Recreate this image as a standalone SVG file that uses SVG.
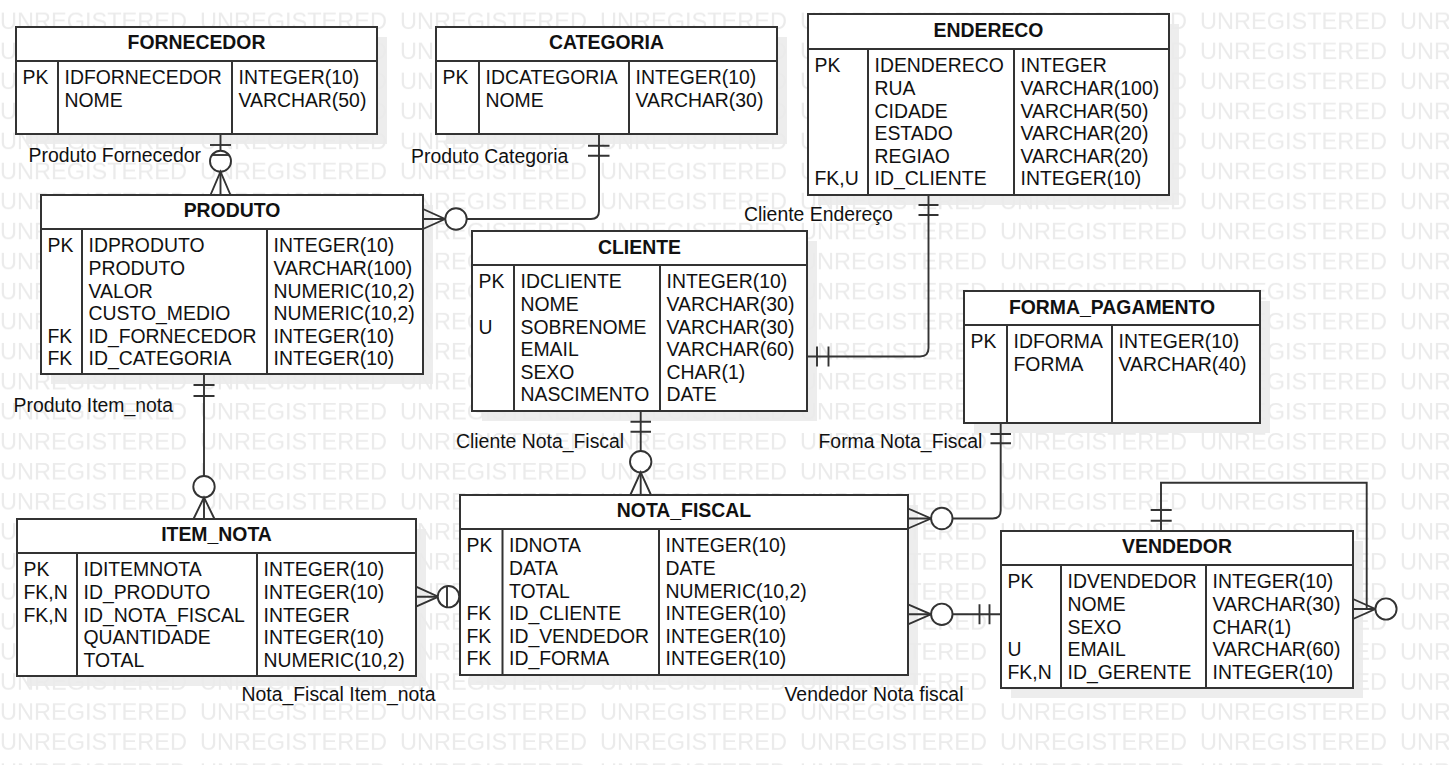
<svg xmlns="http://www.w3.org/2000/svg" width="1449" height="765" viewBox="0 0 1449 765">
<style>
.bg{fill:#fff}
.sh{fill:#000;opacity:.07}
.box{fill:#fff;stroke:#333;stroke-width:2}
.dv{stroke:#333;stroke-width:2;fill:none}
.ln path{fill:none;stroke:#333;stroke-width:1.9}
.ln circle{fill:#fff;stroke:#333;stroke-width:1.9}
text{font-family:"Liberation Sans",Arial,sans-serif;font-size:19.4px;fill:#111}
.ttl{font-weight:bold;text-anchor:middle}
.wm{font-size:23px;fill:#ebebeb}
</style>
<defs>
<pattern id="wm" patternUnits="userSpaceOnUse" x="0" y="0" width="200" height="30.03">
<text class="wm" x="0" y="29.3" textLength="187" lengthAdjust="spacingAndGlyphs">UNREGISTERED</text>
</pattern>
</defs>
<rect class="bg" x="0" y="0" width="1449" height="765"/>
<g id="shadows">
<rect class="sh" x="26" y="37" width="361" height="107"/>
<rect class="sh" x="446" y="37" width="341" height="107"/>
<rect class="sh" x="818" y="24" width="361" height="181"/>
<rect class="sh" x="51" y="205" width="382" height="179"/>
<rect class="sh" x="482" y="241" width="335" height="180"/>
<rect class="sh" x="974" y="301" width="296" height="132"/>
<rect class="sh" x="27" y="529" width="399" height="157"/>
<rect class="sh" x="470" y="505" width="448" height="180"/>
<rect class="sh" x="1011" y="541" width="352" height="157"/>
</g>
<rect x="0" y="0" width="1449" height="765" fill="url(#wm)"/>

<g id="connectors" class="ln">
<!-- Produto Fornecedor -->
<path d="M220.5,134 V195"/>
<path d="M210,145 H231"/>
<circle cx="220.5" cy="161.2" r="10.5"/>
<path d="M212,155 H229"/>
<path d="M210.5,195 L220.5,171.7 L230.5,195"/>
<!-- Produto Categoria -->
<path d="M599,134 V211 Q599,219 591,219 H423"/>
<path d="M588,145.7 H609.5 M588,155.7 H609.5"/>
<path d="M423,209 L445,219 L423,229"/>
<circle cx="456" cy="219" r="10.7"/>
<!-- Cliente Endereco -->
<path d="M928.5,195 V348 Q928.5,356.5 920,356.5 H807"/>
<path d="M918.5,205 H938.5 M918.5,215 H938.5"/>
<path d="M817,346.5 V366.5 M828.5,346.5 V366.5"/>
<!-- Produto Item_nota -->
<path d="M204,374 V519"/>
<path d="M193.5,385 H214.5 M193.5,396 H214.5"/>
<circle cx="204" cy="486.7" r="10.7"/>
<path d="M193.5,519 L204,497.4 L214.5,519"/>
<!-- Cliente Nota_Fiscal -->
<path d="M640.7,411 V495"/>
<path d="M630.5,421.7 H651 M630.5,431.7 H651"/>
<circle cx="640.7" cy="461.7" r="10.7"/>
<path d="M630.3,495 L640.7,472.4 L651,495"/>
<!-- Forma Nota_Fiscal -->
<path d="M1000.7,423 V510.5 Q1000.7,518.5 992.7,518.5 H908"/>
<path d="M990.5,434 H1011 M990.5,443.3 H1011"/>
<path d="M908,508.5 L931,518.5 L908,528.5"/>
<circle cx="941.8" cy="518.5" r="10.7"/>
<!-- Vendedor Nota fiscal -->
<path d="M908,614.3 H1001"/>
<path d="M908,604.3 L931,614.3 L908,624.3"/>
<circle cx="941.8" cy="614.3" r="10.7"/>
<path d="M979.5,604.3 V624.3 M989.5,604.3 V624.3"/>
<!-- Vendedor self (gerente) -->
<path d="M1161,531 V482.7 H1366.7 V609 H1353"/>
<path d="M1150.7,510 H1171.7 M1150.7,520.7 H1171.7"/>
<path d="M1353,599 L1375.3,609 L1353,619 M1353,609 H1375.3"/>
<circle cx="1386" cy="609" r="10.6"/>
<!-- Nota_Fiscal Item_nota -->
<path d="M416,596.7 H460"/>
<path d="M416,586.7 L438.3,596.7 L416,606.7"/>
<circle cx="448.5" cy="596.7" r="10.7"/>
<path d="M447,586.2 V607.2"/>
<g id="labels">
<text x="28.5" y="161.7">Produto Fornecedor</text>
<text x="411" y="163.3">Produto Categoria</text>
<text x="744" y="220.7">Cliente Endereço</text>
<text x="13.5" y="411.7">Produto Item_nota</text>
<text x="456" y="448.3">Cliente Nota_Fiscal</text>
<text x="818.5" y="448.3">Forma Nota_Fiscal</text>
<text x="241.5" y="700.7">Nota_Fiscal Item_nota</text>
<text x="784.5" y="700.5">Vendedor Nota fiscal</text>
</g>
</g>

<g id="FORNECEDOR">
<rect class="box" x="16" y="27" width="361" height="107"/>
<path class="dv" d="M16,61 H377 M58,61 V134 M232,61 V134"/>
<text class="ttl" x="196.5" y="49">FORNECEDOR</text>
<text x="22.5" y="84.3">PK</text>
<text x="64.5" y="84.3">IDFORNECEDOR</text><text x="238.5" y="84.3">INTEGER(10)</text>
<text x="64.5" y="106.9">NOME</text><text x="238.5" y="106.9">VARCHAR(50)</text>
</g>

<g id="CATEGORIA">
<rect class="box" x="436" y="27" width="341" height="107"/>
<path class="dv" d="M436,61 H777 M479,61 V134 M629,61 V134"/>
<text class="ttl" x="606.5" y="49">CATEGORIA</text>
<text x="442.5" y="84.3">PK</text>
<text x="485.5" y="84.3">IDCATEGORIA</text><text x="635.5" y="84.3">INTEGER(10)</text>
<text x="485.5" y="106.9">NOME</text><text x="635.5" y="106.9">VARCHAR(30)</text>
</g>

<g id="ENDERECO">
<rect class="box" x="808" y="14" width="361" height="181"/>
<path class="dv" d="M808,49 H1169 M868,49 V195 M1014,49 V195"/>
<text class="ttl" x="988.5" y="36.5">ENDERECO</text>
<text x="814.5" y="72.3">PK</text>
<text x="874.5" y="72.3">IDENDERECO</text><text x="1020.5" y="72.3">INTEGER</text>
<text x="874.5" y="94.9">RUA</text><text x="1020.5" y="94.9">VARCHAR(100)</text>
<text x="874.5" y="117.5">CIDADE</text><text x="1020.5" y="117.5">VARCHAR(50)</text>
<text x="874.5" y="140.1">ESTADO</text><text x="1020.5" y="140.1">VARCHAR(20)</text>
<text x="874.5" y="162.7">REGIAO</text><text x="1020.5" y="162.7">VARCHAR(20)</text>
<text x="814.5" y="185.3">FK,U</text>
<text x="874.5" y="185.3">ID_CLIENTE</text><text x="1020.5" y="185.3">INTEGER(10)</text>
</g>

<g id="PRODUTO">
<rect class="box" x="41" y="195" width="382" height="179"/>
<path class="dv" d="M41,229 H423 M82,229 V374 M267,229 V374"/>
<text class="ttl" x="232" y="217">PRODUTO</text>
<text x="47.5" y="252.3">PK</text>
<text x="88.5" y="252.3">IDPRODUTO</text><text x="273.5" y="252.3">INTEGER(10)</text>
<text x="88.5" y="274.9">PRODUTO</text><text x="273.5" y="274.9">VARCHAR(100)</text>
<text x="88.5" y="297.5">VALOR</text><text x="273.5" y="297.5">NUMERIC(10,2)</text>
<text x="88.5" y="320.1">CUSTO_MEDIO</text><text x="273.5" y="320.1">NUMERIC(10,2)</text>
<text x="47.5" y="342.7">FK</text>
<text x="88.5" y="342.7">ID_FORNECEDOR</text><text x="273.5" y="342.7">INTEGER(10)</text>
<text x="47.5" y="365.3">FK</text>
<text x="88.5" y="365.3">ID_CATEGORIA</text><text x="273.5" y="365.3">INTEGER(10)</text>
</g>

<g id="CLIENTE">
<rect class="box" x="472" y="231" width="335" height="180"/>
<path class="dv" d="M472,265 H807 M514,265 V411 M660,265 V411"/>
<text class="ttl" x="639.5" y="253.5">CLIENTE</text>
<text x="478.5" y="288.3">PK</text>
<text x="520.5" y="288.3">IDCLIENTE</text><text x="666.5" y="288.3">INTEGER(10)</text>
<text x="520.5" y="310.9">NOME</text><text x="666.5" y="310.9">VARCHAR(30)</text>
<text x="478.5" y="333.5">U</text>
<text x="520.5" y="333.5">SOBRENOME</text><text x="666.5" y="333.5">VARCHAR(30)</text>
<text x="520.5" y="356.1">EMAIL</text><text x="666.5" y="356.1">VARCHAR(60)</text>
<text x="520.5" y="378.7">SEXO</text><text x="666.5" y="378.7">CHAR(1)</text>
<text x="520.5" y="401.3">NASCIMENTO</text><text x="666.5" y="401.3">DATE</text>
</g>

<g id="FORMA_PAGAMENTO">
<rect class="box" x="964" y="291" width="296" height="132"/>
<path class="dv" d="M964,325 H1260 M1007,325 V423 M1112,325 V423"/>
<text class="ttl" x="1112" y="313.5">FORMA_PAGAMENTO</text>
<text x="970.5" y="348.3">PK</text>
<text x="1013.5" y="348.3">IDFORMA</text><text x="1118.5" y="348.3">INTEGER(10)</text>
<text x="1013.5" y="370.9">FORMA</text><text x="1118.5" y="370.9">VARCHAR(40)</text>
</g>

<g id="ITEM_NOTA">
<rect class="box" x="17" y="519" width="399" height="157"/>
<path class="dv" d="M17,553 H416 M77,553 V676 M257,553 V676"/>
<text class="ttl" x="216.5" y="541">ITEM_NOTA</text>
<text x="23.5" y="576.3">PK</text>
<text x="83.5" y="576.3">IDITEMNOTA</text><text x="263.5" y="576.3">INTEGER(10)</text>
<text x="23.5" y="598.9">FK,N</text>
<text x="83.5" y="598.9">ID_PRODUTO</text><text x="263.5" y="598.9">INTEGER(10)</text>
<text x="23.5" y="621.5">FK,N</text>
<text x="83.5" y="621.5">ID_NOTA_FISCAL</text><text x="263.5" y="621.5">INTEGER</text>
<text x="83.5" y="644.1">QUANTIDADE</text><text x="263.5" y="644.1">INTEGER(10)</text>
<text x="83.5" y="666.7">TOTAL</text><text x="263.5" y="666.7">NUMERIC(10,2)</text>
</g>

<g id="NOTA_FISCAL">
<rect class="box" x="460" y="495" width="448" height="180"/>
<path class="dv" d="M460,529 H908 M502.5,529 V675 M659,529 V675"/>
<text class="ttl" x="684" y="517">NOTA_FISCAL</text>
<text x="466.5" y="552.3">PK</text>
<text x="509" y="552.3">IDNOTA</text><text x="665.5" y="552.3">INTEGER(10)</text>
<text x="509" y="574.9">DATA</text><text x="665.5" y="574.9">DATE</text>
<text x="509" y="597.5">TOTAL</text><text x="665.5" y="597.5">NUMERIC(10,2)</text>
<text x="466.5" y="620.1">FK</text>
<text x="509" y="620.1">ID_CLIENTE</text><text x="665.5" y="620.1">INTEGER(10)</text>
<text x="466.5" y="642.7">FK</text>
<text x="509" y="642.7">ID_VENDEDOR</text><text x="665.5" y="642.7">INTEGER(10)</text>
<text x="466.5" y="665.3">FK</text>
<text x="509" y="665.3">ID_FORMA</text><text x="665.5" y="665.3">INTEGER(10)</text>
</g>

<g id="VENDEDOR">
<rect class="box" x="1001" y="531" width="352" height="157"/>
<path class="dv" d="M1001,565 H1353 M1061,565 V688 M1206,565 V688"/>
<text class="ttl" x="1177" y="553">VENDEDOR</text>
<text x="1007.5" y="588.3">PK</text>
<text x="1067.5" y="588.3">IDVENDEDOR</text><text x="1212.5" y="588.3">INTEGER(10)</text>
<text x="1067.5" y="610.9">NOME</text><text x="1212.5" y="610.9">VARCHAR(30)</text>
<text x="1067.5" y="633.5">SEXO</text><text x="1212.5" y="633.5">CHAR(1)</text>
<text x="1007.5" y="656.1">U</text>
<text x="1067.5" y="656.1">EMAIL</text><text x="1212.5" y="656.1">VARCHAR(60)</text>
<text x="1007.5" y="678.7">FK,N</text>
<text x="1067.5" y="678.7">ID_GERENTE</text><text x="1212.5" y="678.7">INTEGER(10)</text>
</g>
</svg>
